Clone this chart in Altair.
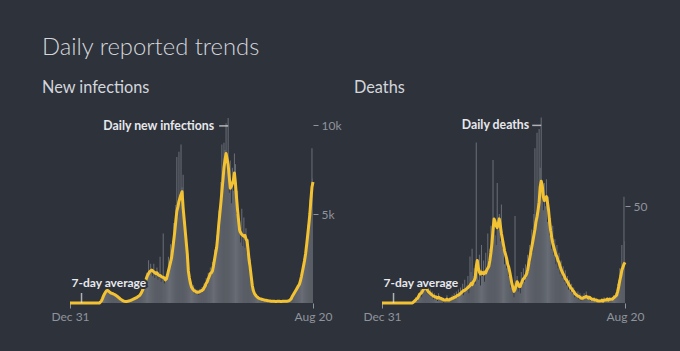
import altair as alt
import pandas as pd

# ---------------- data ----------------
START = (2020, 12, 31)
END = (2021, 8, 20)

inf_avg = (
    [0] * 29
    + [50, 120, 250, 400, 520, 620, 690, 700, 660, 600, 560, 540, 520, 490, 460, 420, 380, 330, 280, 230]
    + [190, 150, 120, 100, 90, 90, 100, 110, 130, 150, 180, 200, 230, 260, 290, 320, 360, 400, 460]
    + [560, 680, 820, 1000, 1200, 1400, 1550, 1650, 1750, 1800, 1850, 1800, 1750, 1700, 1650, 1700, 1600, 1550, 1550, 1500, 1450, 1450, 1400, 1300, 1350]
    + [1550, 1800, 2050, 2300, 2550, 3000, 3500, 4000, 4600, 5150, 5400, 5700, 5900, 6100, 6250]
    + [5350, 4700, 4050, 3400, 2750, 1800, 1400, 1100, 900, 800, 720, 680, 640]
    + [600, 600, 620, 640, 680, 700, 750, 850, 950, 1100, 1200, 1350, 1500, 1650, 1700]
    + [1800, 2100, 2450, 2800, 3100, 3700, 4400, 5000, 5600, 6250, 6900, 7600, 8050, 8400]
    + [8100, 7750, 7100, 6450, 6550, 6700, 6900, 7300, 6700, 5900, 5200, 4600, 4050, 3950, 3850, 3800, 3750, 3800, 3600, 3500]
    + [3000, 2400, 2000, 1500, 1000, 700, 550, 450, 380, 320, 280, 250]
    + [230, 210, 190, 180, 160, 150, 140, 130, 120, 110, 100, 100]
    + [100, 95, 90, 90, 95, 100, 95, 90, 90, 95, 100, 100, 95, 100]
    + [110, 130, 170, 220, 350, 450, 550, 650, 750, 850, 950, 1050, 1250, 1500, 1800, 2100, 2400, 2800, 3300, 3850, 4400, 5000, 5800, 6500, 6800]
)

inf_daily = (
    [0] * 29
    + [80, 200, 350, 500, 600, 750, 820, 680, 720, 550, 640, 480, 600, 430, 500, 380, 420, 280, 320, 200]
    + [220, 130, 150, 80, 110, 70, 120, 90, 160, 130, 220, 170, 280, 220, 350, 260, 420, 350, 550]
    + [600, 900, 700, 1300, 1100, 1700, 1500, 2400, 1600, 2200, 1900, 1500, 2200, 1400, 1800, 2000, 1300, 1700, 2600, 1200, 1500, 3900, 1100, 1300, 1600]
    + [1500, 2600, 1900, 3300, 2500, 3500, 4500, 3800, 5500, 8200, 4800, 8500, 5600, 8900, 6500]
    + [7200, 4200, 4600, 2600, 2800, 1500, 1700, 900, 1200, 700, 1000, 550, 800]
    + [500, 750, 450, 800, 600, 900, 650, 1100, 800, 1400, 1000, 1700, 1300, 2000, 1600]
    + [2300, 1800, 3000, 2500, 3800, 3200, 5200, 4300, 6800, 8900, 7000, 9000, 8600, 10100]
    + [7400, 10400, 6200, 8000, 5600, 7600, 6300, 8400, 7800, 5000, 6300, 4000, 4600, 3400, 5300, 3200, 4800, 3100, 4200, 2800]
    + [3600, 2000, 2500, 1200, 1300, 500, 750, 350, 500, 250, 350, 200]
    + [260, 180, 220, 150, 190, 120, 170, 110, 150, 90, 130, 80, 120, 90, 110, 80, 120, 100, 90, 130, 80, 110, 100, 120, 90, 110]
    + [100, 160, 150, 280, 300, 500, 480, 750, 600, 1000, 850, 1200, 1100, 1800, 1500, 2500, 2200, 3200, 3000, 4400, 4000, 5800, 6000, 8700, 7000]
)

death_avg = (
    [0] * 30
    + [0.5, 1, 1.5, 2, 2.5, 3.5, 4.5, 5, 5.5, 6.5, 7.5, 8, 7.5, 7, 6, 5.5, 5, 4.5, 4, 3.5]
    + [3.5, 3, 3, 2.5, 3, 2.5, 2.5, 2, 2, 1.5, 1.5, 1.5, 2, 1.5, 1.5, 2, 2, 2.5, 2.5, 3]
    + [3, 3.5, 4, 4, 4.5, 5, 5.5, 6, 6.5, 6.5, 7, 7.5, 8, 8.5, 9, 10, 9.5, 11, 11.5, 13]
    + [19, 22, 18, 16, 15, 16, 15.5, 15, 16, 15.5, 17, 18, 19, 22, 26, 31]
    + [38, 43.5, 42, 40, 39, 41, 43.5, 40, 36, 33, 30, 27, 25, 23, 20, 18.5, 16, 13, 10, 8]
    + [6, 7, 9, 11, 10, 8.5, 8.5, 10, 11.5, 12.5, 13, 14, 15, 17, 20, 23, 26, 29, 32, 35]
    + [38, 42, 44.5, 48, 52, 60, 63, 61, 55, 53, 54, 55, 52, 48, 42, 37.5, 34, 31, 29, 27]
    + [25, 24, 22, 21, 19, 17.5, 16, 15, 14, 12.5, 12, 11, 10, 9, 8, 7.5, 6.5, 6, 5, 4.5]
    + [4, 3.5, 3.5, 3, 2.5, 2.5, 2.5, 3, 3, 3.5, 3, 2.5, 3, 2.5, 2, 2, 2, 1.5, 1.5, 1.5]
    + [1, 1, 1, 1, 1.5, 1, 1.5, 1.5, 1.5, 2, 1.5, 2, 2, 2, 2, 2.5, 3, 3.5, 4, 6]
    + [8.5, 11.5, 14, 17, 18.5, 20, 21]
)

death_daily = (
    [0] * 30
    + [1, 0, 3, 2, 1, 5, 4, 7, 3, 9, 6, 11, 8, 5, 9, 4, 7, 3, 6, 2]
    + [5, 2, 4, 1, 5, 2, 3, 1, 3, 0, 2, 1, 4, 1, 2, 3, 1, 4, 2, 5]
    + [2, 6, 3, 7, 4, 8, 5, 10, 4, 12, 6, 9, 14, 5, 24, 16, 28, 14, 18, 10]
    + [83, 20, 12, 25, 9, 30, 14, 22, 11, 26, 15, 36, 18, 28, 40, 35]
    + [74, 40, 35, 30, 62, 38, 46, 32, 51, 28, 33, 20, 26, 18, 22, 14, 17, 8, 12, 6]
    + [3, 45, 8, 14, 6, 10, 5, 16, 9, 18, 11, 20, 13, 25, 16, 30, 21, 38, 26, 46]
    + [80, 45, 88, 52, 90, 70, 96, 58, 48, 62, 50, 64, 42, 55, 35, 44, 28, 40, 25, 33]
    + [20, 30, 18, 26, 15, 22, 13, 19, 11, 17, 9, 14, 7, 12, 6, 10, 5, 8, 3, 6]
    + [3, 6, 2, 5, 1, 4, 2, 5, 3, 6, 2, 4, 3, 1, 3, 2, 1, 3, 1, 2]
    + [0, 2, 1, 0, 2, 1, 3, 1, 2, 3, 1, 3, 2, 1, 3, 4, 2, 5, 4, 10]
    + [12, 18, 14, 30, 20, 55, 32]
)

avg_label_date = "2021-01-11"   # where the "7-day average" pointer sits

# ---------------- styling ----------------
BG = "#2e323b"
BAR = "#686c74"
LINE = "#f3c232"
TXT = "#d3d6db"
AXIS_TXT = "#8e949c"
ANN = "#e6e8ec"
FONT = "Lato"

dates = pd.date_range("2020-12-31", "2021-08-20", freq="D")
assert len(dates) == len(inf_avg) == len(inf_daily) == len(death_avg) == len(death_daily)

d0 = alt.DateTime(year=START[0], month=START[1], date=START[2])
d1 = alt.DateTime(year=END[0], month=END[1], date=END[2])


def make_df(avg, daily):
    df = pd.DataFrame({"date": dates, "avg": avg, "daily": daily})
    df["start"] = df["date"] - pd.Timedelta(hours=12)
    df["end"] = df["date"] + pd.Timedelta(hours=12)
    return df


def panel(df, subtitle, ymax, yvals, yfmt, top_label, top_dx):
    xscale = alt.Scale(domain=[d0, d1])
    yscale = alt.Scale(domain=[0, ymax], nice=False)
    xaxis = alt.Axis(values=[d0, d1], format="%b %d", title=None, labelFlush=False)
    yaxis = alt.Axis(values=yvals, format=yfmt, orient="right", title=None)

    bars = alt.Chart(df).mark_bar(color=BAR, clip=True).encode(
        x=alt.X("start:T", scale=xscale, axis=xaxis),
        x2="end:T",
        y=alt.Y("daily:Q", scale=yscale, axis=yaxis),
        y2=alt.datum(0),
    )
    line = alt.Chart(df).mark_line(color=LINE, strokeWidth=3, strokeJoin="round").encode(
        x=alt.X("date:T", scale=xscale, axis=xaxis),
        y=alt.Y("avg:Q", scale=yscale, axis=yaxis),
    )

    top = df.loc[[df["daily"].idxmax()], ["date", "daily"]].assign(label=top_label)
    avg_pt = pd.DataFrame({"date": [pd.Timestamp(avg_label_date)], "daily": [0], "label": ["7-day average"]})

    def label_layers(d, align, dx, dy, size):
        base = alt.Chart(d).encode(
            x=alt.X("date:T", scale=xscale, axis=xaxis),
            y=alt.Y("daily:Q", scale=yscale, axis=yaxis),
            text="label:N",
        )
        halo = base.mark_text(align=align, baseline="middle", dx=dx, dy=dy, font=FONT,
                              fontSize=size, fontWeight="bold", color=BG, stroke=BG, strokeWidth=4)
        txt = base.mark_text(align=align, baseline="middle", dx=dx, dy=dy, font=FONT,
                             fontSize=size, fontWeight="bold", color=ANN)
        return halo + txt

    top_tick = alt.Chart(top).mark_tick(orient="horizontal", size=9, thickness=1.5, color=ANN,
                                        xOffset=-4.5, yOffset=8).encode(
        x=alt.X("date:T", scale=xscale, axis=xaxis),
        y=alt.Y("daily:Q", scale=yscale, axis=yaxis),
    )
    avg_tick = alt.Chart(avg_pt).mark_tick(orient="vertical", size=10, thickness=1.5, color=ANN,
                                           yOffset=-5).encode(
        x=alt.X("date:T", scale=xscale, axis=xaxis),
        y=alt.Y("daily:Q", scale=yscale, axis=yaxis),
    )

    return alt.layer(
        bars, line, avg_tick,
        label_layers(avg_pt, "left", -10, -20, 12),
        top_tick,
        label_layers(top, "right", top_dx, 8, 12.3),
    ).properties(
        width=243, height=186,
        title=alt.TitleParams(subtitle, anchor="start", frame="group", dx=-28, fontSize=16.3, font=FONT,
                              fontWeight="normal", color=TXT, offset=21),
    )


inf_df = make_df(inf_avg, inf_daily)
death_df = make_df(death_avg, death_daily)

left = panel(inf_df, "New infections", 10450, [5000, 10000], "~s", "Daily new infections", -14)
right = panel(death_df, "Deaths", 96.2, [50], "d", "Daily deaths", -12)

chart = alt.hconcat(left, right, spacing=12).properties(
    title=alt.TitleParams("Daily reported trends", anchor="start", fontSize=23.8, font=FONT,
                          fontWeight=300, color=TXT, offset=20),
    background=BG,
    padding={"left": 42, "top": 35, "right": 33, "bottom": 30},
).configure_view(stroke=None).configure_axis(
    domain=False, grid=False, tickColor="#8e949c", tickSize=5, tickWidth=1,
    labelColor=AXIS_TXT, labelFont=FONT, labelFontSize=12, labelPadding=3,
)

chart.save("out.html", embed_options={"renderer": "svg", "actions": False})
